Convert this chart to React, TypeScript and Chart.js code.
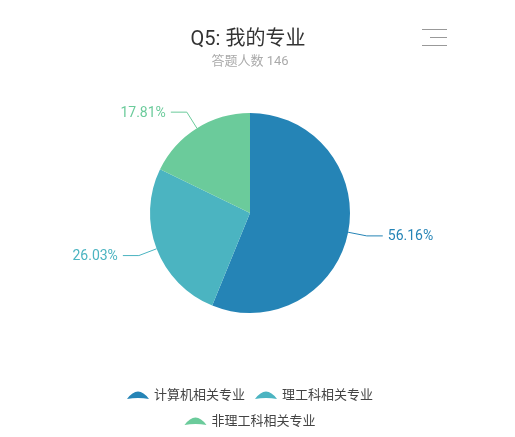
import React, { useEffect, useRef } from 'react';
import Chart from 'chart.js/auto';

const categories = ['计算机相关专业', '理工科相关专业', '非理工科相关专业'];
const counts = [82, 38, 26];
const colors = ['#2584b6', '#4bb4c1', '#6bcb9b'];
const titleText = 'Q5: 我的专业';
const subtitleText = '答题人数 146';

const FONT = 'Roboto, "Noto Sans CJK SC", sans-serif';

// fan shaped legend marker, like the one in the source picture
const drawFan = (ctx: CanvasRenderingContext2D, x: number, cy: number, color: string) => {
    const w = 22;
    ctx.save();
    ctx.fillStyle = color;
    ctx.beginPath();
    ctx.moveTo(x, cy + 4);
    ctx.quadraticCurveTo(x + w / 2, cy - 11, x + w, cy + 4);
    ctx.quadraticCurveTo(x + w / 2, cy + 2, x, cy + 4);
    ctx.closePath();
    ctx.fill();
    ctx.restore();
};

const overlayPlugin = {
    id: 'overlay',
    afterDraw: (chart: Chart) => {
        const { ctx } = chart;
        const cx = 248;

        ctx.save();
        ctx.textAlign = 'center';
        ctx.textBaseline = 'middle';
        ctx.fillStyle = '#333';
        ctx.font = `20px ${FONT}`;
        ctx.fillText(titleText, cx, 40);
        ctx.fillStyle = '#aaa';
        ctx.font = `13px ${FONT}`;
        ctx.fillText(subtitleText, cx + 2, 62);

        // menu icon
        ctx.strokeStyle = '#999';
        ctx.lineWidth = 1;
        [[422, 29.5], [430, 37.5], [422, 45.5]].forEach(([x0, y]) => {
            ctx.beginPath();
            ctx.moveTo(x0, y);
            ctx.lineTo(447, y);
            ctx.stroke();
        });

        // slice labels with leader lines
        const meta = chart.getDatasetMeta(0);
        const total = counts.reduce((a, b) => a + b, 0);
        ctx.font = `14px ${FONT}`;
        meta.data.forEach((el: any, i: number) => {
            const { x, y, startAngle, endAngle, outerRadius } = el.getProps(
                ['x', 'y', 'startAngle', 'endAngle', 'outerRadius'], true);
            const mid = (startAngle + endAngle) / 2;
            const cos = Math.cos(mid);
            const sin = Math.sin(mid);
            const p0x = x + outerRadius * cos;
            const p0y = y + outerRadius * sin;
            const p1x = x + (outerRadius + 19) * cos;
            const p1y = y + (outerRadius + 19) * sin;
            const dir = cos >= 0 ? 1 : -1;
            const p2x = p1x + dir * 16;
            ctx.strokeStyle = colors[i];
            ctx.beginPath();
            ctx.moveTo(p0x, p0y);
            ctx.lineTo(p1x, p1y);
            ctx.lineTo(p2x, p1y);
            ctx.stroke();
            ctx.fillStyle = colors[i];
            ctx.textAlign = dir > 0 ? 'left' : 'right';
            ctx.fillText(((counts[i] / total) * 100).toFixed(2) + '%', p2x + dir * 5, p1y + 1);
        });

        // legend, wrapped into rows
        ctx.font = `13px ${FONT}`;
        ctx.textAlign = 'left';
        const items = categories.map((c, i) => ({
            text: c, color: colors[i], w: 22 + 5 + ctx.measureText(c).width,
        }));
        const rows: typeof items[] = [];
        let row: typeof items = [];
        let rowW = 0;
        items.forEach(it => {
            const add = (row.length ? 10 : 0) + it.w;
            if (row.length && rowW + add > 260) {
                rows.push(row);
                row = [];
                rowW = 0;
            }
            rowW += (row.length ? 10 : 0) + it.w;
            row.push(it);
        });
        if (row.length) rows.push(row);
        rows.forEach((r, ri) => {
            const width = r.reduce((s, it) => s + it.w, 0) + 10 * (r.length - 1);
            let lx = 250 - width / 2;
            const ly = 395 + ri * 26;
            r.forEach(it => {
                drawFan(ctx, lx, ly, it.color);
                ctx.fillStyle = '#444';
                ctx.fillText(it.text, lx + 27, ly + 1);
                lx += it.w + 10;
            });
        });
        ctx.restore();
    },
};

const App: React.FC = () => {
    const canvasRef = useRef<HTMLCanvasElement>(null);

    useEffect(() => {
        if (!canvasRef.current) return;
        const chart = new Chart(canvasRef.current, {
            type: 'pie',
            data: {
                labels: categories,
                datasets: [{
                    data: counts,
                    backgroundColor: colors,
                    borderWidth: 0,
                }],
            },
            options: {
                animation: false,
                responsive: true,
                maintainAspectRatio: false,
                layout: { padding: { left: 150, right: 165, top: 113, bottom: 124 } },
                plugins: {
                    legend: { display: false },
                    tooltip: { enabled: false },
                },
            },
            plugins: [overlayPlugin],
        });
        return () => chart.destroy();
    }, []);

    return (
        <div style={{ position: 'fixed', left: 0, top: 0, width: 515, height: 437, background: '#fff' }}>
            <canvas ref={canvasRef} />
        </div>
    );
};

export default App;
